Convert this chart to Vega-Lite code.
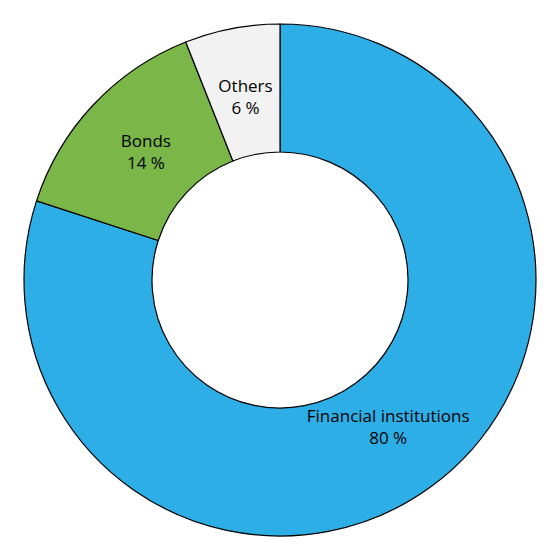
{
  "$schema": "https://vega.github.io/schema/vega-lite/v6.json",
  "width": 560,
  "height": 560,
  "autosize": {"type": "fit", "contains": "padding"},
  "padding": 0,
  "background": "white",
  "view": {"stroke": null},
  "data": {
    "values": [
      {"category": "Financial institutions", "share": 80, "label": "Financial institutions\n80 %", "order": 1},
      {"category": "Bonds", "share": 14, "label": "Bonds\n14 %", "order": 2},
      {"category": "Others", "share": 6, "label": "Others\n6 %", "order": 3}
    ]
  },
  "encoding": {
    "theta": {"field": "share", "type": "quantitative", "stack": true},
    "order": {"field": "order", "type": "quantitative"}
  },
  "layer": [
    {
      "mark": {"type": "arc", "outerRadius": 256, "innerRadius": 128, "stroke": "black", "strokeWidth": 1.2},
      "encoding": {
        "color": {
          "field": "category",
          "type": "nominal",
          "scale": {
            "domain": ["Financial institutions", "Bonds", "Others"],
            "range": ["#2EAEE6", "#7AB648", "#F2F2F2"]
          },
          "legend": null
        }
      }
    },
    {
      "mark": {
        "type": "text",
        "radius": 184,
        "dy": -12,
        "font": "Open Sans",
        "fontSize": 17,
        "lineBreak": "\n",
        "lineHeight": 22,
        "color": "black",
        "align": "center",
        "baseline": "middle"
      },
      "encoding": {
        "text": {"field": "label", "type": "nominal"}
      }
    }
  ]
}
